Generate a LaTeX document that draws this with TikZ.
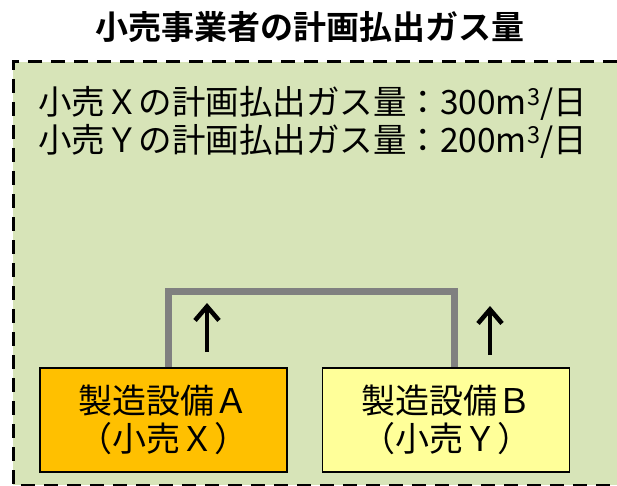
\documentclass[tikz,border=0pt]{standalone}
\usepackage{fontspec}
\newfontfamily\jp{Noto Sans CJK JP}
\newfontfamily\jpb{Noto Sans CJK JP Bold}
\definecolor{bg}{HTML}{D7E4B8}
\definecolor{boxA}{HTML}{FFC000}
\definecolor{boxB}{HTML}{FFFF99}
\definecolor{pipe}{HTML}{808080}
\usetikzlibrary{arrows.meta}
\tikzset{
  plant/.style={draw=black, line width=1.5pt, minimum width=247pt, minimum height=104pt, inner sep=0pt, align=center, font=\jp\fontsize{34}{38}\selectfont},
  flow/.style={line width=4.5pt, -{Straight Barb[length=14pt,width=24pt,line width=4.5pt]}},
  info/.style={font=\jp\fontsize{33.5}{36}\selectfont, anchor=west, inner sep=0pt},
}
\begin{document}
\begin{tikzpicture}[x=1pt,y=-1pt]
\useasboundingbox (0,0) rectangle (617,486);
\fill[white] (0,0) rectangle (617,486);
\fill[bg] (13,62) rectangle (617,485);
\draw[line width=3pt, dash pattern=on 14pt off 9pt] (617,62) -- (13,62) -- (13,485) -- (617,485);
\node[font=\jpb\fontsize{33}{36}\selectfont, anchor=center] (title) at (310,27) {小売事業者の計画払出ガス量};
\node[info] (l1) at (38,103) {小売Ｘの計画払出ガス量：300m\textsuperscript{3}/日};
\node[info] (l2) at (38,141) {小売Ｙの計画払出ガス量：200m\textsuperscript{3}/日};
\node[plant, fill=boxA] (A) at (163.5,420) {製造設備Ａ\\（小売Ｘ）};
\node[plant, fill=boxB] (B) at (446,420) {製造設備Ｂ\\（小売Ｙ）};
\coordinate (p1) at (168,291);
\coordinate (p2) at (454,291);
\draw[pipe, line width=7pt] (A.north -| p1) -- (p1) -- (p2) -- (B.north -| p2);
\coordinate (a1s) at (207,352);
\coordinate (a1e) at (207,303);
\coordinate (a2s) at (490,355);
\coordinate (a2e) at (490,306);
\draw[flow] (a1s) -- (a1e);
\draw[flow] (a2s) -- (a2e);
\end{tikzpicture}
\end{document}
